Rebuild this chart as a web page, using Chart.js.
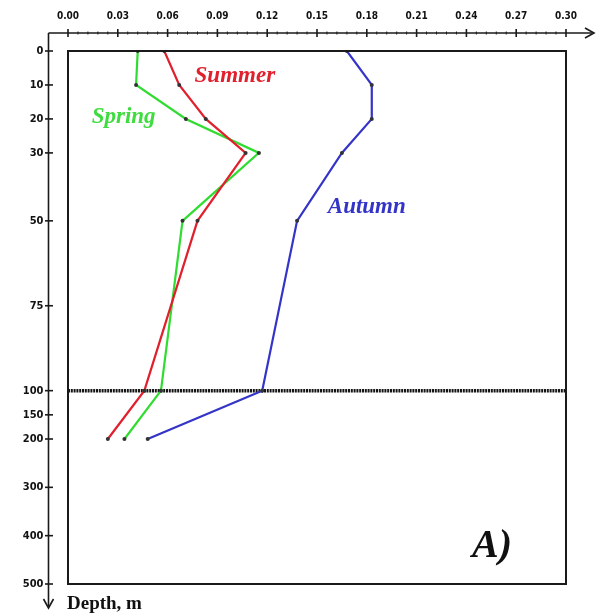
<!DOCTYPE html>
<html>
<head>
<meta charset="utf-8">
<script src="https://cdn.jsdelivr.net/npm/chart.js@4.4.1/dist/chart.umd.min.js"></script>
<style>
  html, body { margin: 0; padding: 0; background: #fff; }
  #wrap { width: 597px; height: 614px; position: relative; }
</style>
</head>
<body>
<div id="wrap"><canvas id="c"></canvas></div>
<script>
// Sampling depths (m) and seasonal profiles
const depths = [0, 10, 20, 30, 50, 100, 200];
const summer = [0.058, 0.067, 0.083, 0.107, 0.078, 0.046, 0.024];
const spring = [0.042, 0.041, 0.071, 0.115, 0.069, 0.056, 0.034];
const autumn = [0.168, 0.183, 0.183, 0.165, 0.138, 0.117, 0.048];

// Axis ticks
const xTicks = [0.00, 0.03, 0.06, 0.09, 0.12, 0.15, 0.18, 0.21, 0.24, 0.27, 0.30];
const depthTicks = [0, 10, 20, 30, 50, 75, 100, 150, 200, 300, 400, 500];
const refDepth = 100;
const maxDepth = 500;

// Depth axis: linear down to 100 m, compressed below that
const DEEP_RATIO = 0.1423;
function depthToAxis(d) { return d <= 100 ? d : 100 + (d - 100) * DEEP_RATIO; }

function profile(values) {
  return depths.map((d, i) => ({ x: values[i], y: depthToAxis(d) }));
}

const seriesStyle = (color) => ({
  showLine: true,
  borderColor: color,
  backgroundColor: color,
  borderWidth: 2.2,
  pointRadius: 2,
  pointBorderWidth: 0,
  pointBackgroundColor: '#333',
  tension: 0
});

// Curve names placed in data coordinates
const curveLabels = [
  { text: 'Summer', x: 0.1005, depth: 7.5, color: '#e0202c' },
  { text: 'Spring', x: 0.0335, depth: 19.5, color: '#3fdc3f' },
  { text: 'Autumn', x: 0.180, depth: 46, color: '#3434c8' }
];

const axesPlugin = {
  id: 'depthAxes',
  afterDatasetsDraw(chart) {
    const { ctx, chartArea: a, scales } = chart;
    const xs = scales.x, ys = scales.y;
    const axisY = 33, axisX = 48.5;
    ctx.save();

    // Frame around the plotting area
    ctx.strokeStyle = '#1a1a1a';
    ctx.lineWidth = 2;
    ctx.strokeRect(a.left, a.top, a.right - a.left, a.bottom - a.top);

    // Top value axis with arrow
    ctx.lineWidth = 1.6;
    ctx.beginPath();
    ctx.moveTo(axisX, axisY);
    ctx.lineTo(592, axisY);
    ctx.stroke();
    ctx.beginPath();
    ctx.moveTo(585, axisY - 5);
    ctx.lineTo(594, axisY);
    ctx.lineTo(585, axisY + 5);
    ctx.stroke();

    // Minor ticks on the value axis
    ctx.lineWidth = 1;
    for (let i = 0; i < xTicks.length - 1; i++) {
      for (let k = 1; k < 5; k++) {
        const v = xTicks[i] + (xTicks[i + 1] - xTicks[i]) * k / 5;
        const px = xs.getPixelForValue(v);
        ctx.beginPath();
        ctx.moveTo(px, axisY - 1.5);
        ctx.lineTo(px, axisY + 1.5);
        ctx.stroke();
      }
    }
    // Major ticks and labels
    ctx.lineWidth = 1.6;
    ctx.fillStyle = '#111';
    ctx.font = 'bold 10px "Liberation Sans Narrow", "DejaVu Sans Condensed", sans-serif';
    ctx.textAlign = 'center';
    ctx.textBaseline = 'middle';
    xTicks.forEach(v => {
      const px = xs.getPixelForValue(v);
      ctx.beginPath();
      ctx.moveTo(px, axisY - 4);
      ctx.lineTo(px, axisY + 4);
      ctx.stroke();
      ctx.fillText(v.toFixed(2), px, 16);
    });

    // Left depth axis with downward arrow
    ctx.beginPath();
    ctx.moveTo(axisX, axisY);
    ctx.lineTo(axisX, 606);
    ctx.stroke();
    ctx.beginPath();
    ctx.moveTo(axisX - 5, 599);
    ctx.lineTo(axisX, 608);
    ctx.lineTo(axisX + 5, 599);
    ctx.stroke();

    ctx.font = 'bold 11px "Liberation Sans Narrow", "DejaVu Sans Condensed", sans-serif';
    ctx.textAlign = 'right';
    depthTicks.forEach(d => {
      const py = ys.getPixelForValue(depthToAxis(d));
      ctx.beginPath();
      ctx.moveTo(axisX - 3.5, py);
      ctx.lineTo(axisX + 4.5, py);
      ctx.stroke();
      ctx.fillText(String(d), axisX - 5, py);
    });

    // Axis title
    ctx.textAlign = 'left';
    ctx.textBaseline = 'alphabetic';
    ctx.font = 'bold 19px "Liberation Serif", "DejaVu Serif", serif';
    ctx.fillText('Depth, m', 67, 609);

    // Curve names
    ctx.textAlign = 'center';
    ctx.textBaseline = 'middle';
    curveLabels.forEach(l => {
      ctx.fillStyle = l.color;
      ctx.font = 'italic bold 23px "Liberation Serif", "DejaVu Serif", serif';
      ctx.fillText(l.text, xs.getPixelForValue(l.x), ys.getPixelForValue(depthToAxis(l.depth)));
    });

    // Panel letter
    ctx.fillStyle = '#111';
    ctx.font = 'italic bold 40px "Liberation Serif", "DejaVu Serif", serif';
    ctx.fillText('A)', 492, 547);

    ctx.restore();
  }
};

new Chart(document.getElementById('c'), {
  type: 'scatter',
  data: {
    datasets: [
      Object.assign({ label: 'Summer', data: profile(summer), order: 1 }, seriesStyle('#e0202c')),
      Object.assign({ label: 'Spring', data: profile(spring), order: 2 }, seriesStyle('#2fdc2f')),
      Object.assign({ label: 'Autumn', data: profile(autumn), order: 3 }, seriesStyle('#3434c8')),
      {
        label: '100 m',
        data: [{ x: xTicks[0], y: depthToAxis(refDepth) }, { x: xTicks[xTicks.length - 1], y: depthToAxis(refDepth) }],
        showLine: true,
        borderColor: '#151515',
        borderWidth: 3.5,
        borderDash: [2, 0.8],
        pointRadius: 0,
        order: 10
      }
    ]
  },
  options: {
    responsive: true,
    maintainAspectRatio: false,
    animation: false,
    layout: { padding: { left: 68, top: 51, right: 31, bottom: 30 } },
    plugins: { legend: { display: false }, tooltip: { enabled: false } },
    scales: {
      x: { type: 'linear', display: false, min: 0, max: 0.30 },
      y: { type: 'linear', display: false, reverse: true, min: 0, max: depthToAxis(maxDepth) }
    }
  },
  plugins: [axesPlugin]
});
</script>
</body>
</html>
